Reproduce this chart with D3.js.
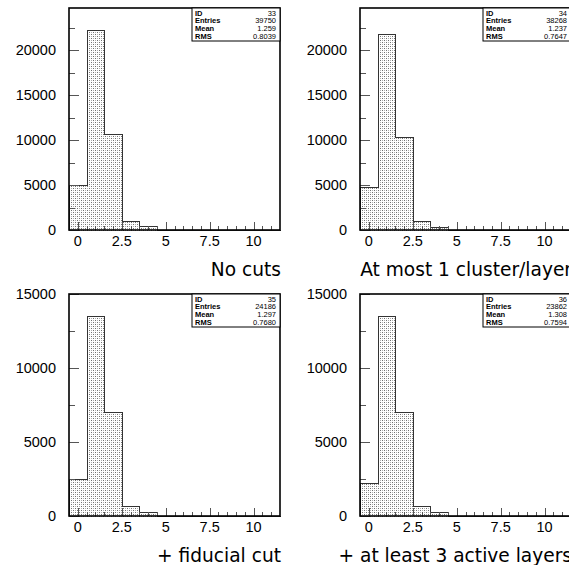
<!DOCTYPE html>
<html><head><meta charset="utf-8">
<script src="https://cdn.jsdelivr.net/npm/d3@7"></script>
<style>html,body{margin:0;padding:0;background:#fff;overflow:hidden}</style>
</head><body>
<svg id="chart" width="569" height="565"></svg>
<script>
// ---- data ----
const binCenters = [0,1,2,3,4,5,6,7,8,9,10,11];
const counts33 = [4950, 22200, 10650, 1030, 440, 40, 15, 5, 0, 0, 0, 0];
const counts34 = [4800, 21750, 10350, 1000, 380, 40, 15, 5, 0, 0, 0, 0];
const counts35 = [2480, 13480, 7000, 650, 290, 30, 10, 5, 0, 0, 0, 0];
const counts36 = [2250, 13480, 7000, 650, 290, 30, 10, 5, 0, 0, 0, 0];
const titles = ["No cuts", "At most 1 cluster/layer", "+ fiducial cut", "+ at least 3 active layers"];
const ids = ["33", "34", "35", "36"];
const entries = ["39750", "38268", "24186", "23862"];
const means = ["1.259", "1.237", "1.297", "1.308"];
const rmss = ["0.8039", "0.7647", "0.7680", "0.7594"];
const xTickValues = [0, 2.5, 5, 7.5, 10];
const xTickLabels = ["0", "2.5", "5", "7.5", "10"];
const yTicksTop = [0, 5000, 10000, 15000, 20000];
const yTicksBottom = [0, 5000, 10000, 15000];
const yMaxTop = 24667, yMaxBottom = 15000;

const series = [counts33, counts34, counts35, counts36];

const svg = d3.select("#chart");
const defs = svg.append("defs");
const pat = defs.append("pattern").attr("id","dots").attr("patternUnits","userSpaceOnUse")
  .attr("width",4).attr("height",4);
pat.append("rect").attr("width",4).attr("height",4).attr("fill","#fff");
[[0,0,"#707070"],[2,2,"#707070"],[2,0,"#b0b0b0"],[0,2,"#b0b0b0"]].forEach(p => {
  pat.append("rect").attr("x",p[0]).attr("y",p[1]).attr("width",1).attr("height",1).attr("fill",p[2]);
});

const colX = [69, 360], rowY = [8, 294], W = 211, H = 222;

series.forEach((counts, i) => {
  const c = i % 2, r = Math.floor(i / 2);
  const x0 = colX[c], y0 = rowY[r];
  const g = svg.append("g").attr("transform", `translate(${x0},${y0})`);
  const x = d3.scaleLinear().domain([-0.5, 11.5]).range([0, W]);
  const y = d3.scaleLinear().domain([0, r === 0 ? yMaxTop : yMaxBottom]).range([H, 0]);

  // step outline of histogram
  const pts = [[-0.5, 0]];
  counts.forEach((v, k) => { pts.push([binCenters[k]-0.5, v]); pts.push([binCenters[k]+0.5, v]); });
  pts.push([11.5, 0]);
  const line = d3.line().x(d => Math.round(x(d[0]))+0.5).y(d => Math.round(y(d[1]))+0.5);
  g.append("path").attr("d", line(pts)).attr("fill", "url(#dots)").attr("stroke", "#333")
    .attr("stroke-width", 1).attr("shape-rendering","crispEdges");

  // y ticks (inside)
  const yt = r === 0 ? yTicksTop : yTicksBottom;
  const yMinor = d3.range(0, (r===0?yMaxTop:yMaxBottom)+1, 2500);
  g.append("g").selectAll("line").data(yMinor).join("line")
    .attr("x1", 0).attr("x2", d => (d % 5000 === 0) ? 10 : 6)
    .attr("y1", d => Math.round(y(d))+0.5).attr("y2", d => Math.round(y(d))+0.5)
    .attr("stroke", "#555").attr("stroke-width", 1);
  g.append("g").selectAll("text").data(yt).join("text")
    .attr("x", -13).attr("y", d => y(d)).attr("dy", "0.36em").attr("text-anchor", "end")
    .attr("font-family", "Liberation Sans, Arial, sans-serif").attr("font-size", 14.5)
    .attr("fill", "#000").text(d => d);

  // x ticks (inside, upward)
  const xMinor = d3.range(0, 11.01, 0.5);
  g.append("g").selectAll("line").data(xMinor).join("line")
    .attr("x1", d => Math.round(x(d))+0.5).attr("x2", d => Math.round(x(d))+0.5)
    .attr("y1", H).attr("y2", d => (d % 2.5 === 0) ? H - 8 : H - 4)
    .attr("stroke", "#555").attr("stroke-width", 1);
  g.append("g").selectAll("text").data(xTickValues).join("text")
    .attr("x", d => x(d)).attr("y", H + 16).attr("text-anchor", "middle")
    .attr("font-family", "Liberation Sans, Arial, sans-serif").attr("font-size", 14.5)
    .attr("fill", "#000").text((d, k) => xTickLabels[k]);

  // frame
  g.append("rect").attr("x", 0).attr("y", 0).attr("width", W).attr("height", H)
    .attr("fill", "none").attr("stroke", "#000").attr("stroke-width", 1.6);

  // stats box
  const bw = 88, bh = 33;
  const sb = g.append("g").attr("transform", `translate(${W - bw},0)`);
  sb.append("rect").attr("width", bw).attr("height", bh).attr("fill", "#fff")
    .attr("stroke", "#000").attr("stroke-width", 1);
  const labs = ["ID", "Entries", "Mean", "RMS"];
  const vals = [ids[i], entries[i], means[i], rmss[i]];
  labs.forEach((lab, k) => {
    const by = 7.5 + k * 7.8;
    sb.append("text").attr("x", 3).attr("y", by).attr("font-family", "Liberation Sans, Arial, sans-serif")
      .attr("font-size", 7.5).attr("font-weight", "bold").attr("fill", "#000").text(lab);
    sb.append("text").attr("x", bw - 4).attr("y", by).attr("text-anchor", "end")
      .attr("font-family", "Liberation Sans, Arial, sans-serif")
      .attr("font-size", 7.5).attr("fill", "#000").text(vals[k]);
  });

  // title
  g.append("text").attr("x", W + 1).attr("y", H + 46).attr("text-anchor", "end")
    .attr("font-family", "DejaVu Sans, sans-serif").attr("font-size", 18.6).attr("fill", "#000")
    .text(titles[i]);
});
</script>
</body></html>
